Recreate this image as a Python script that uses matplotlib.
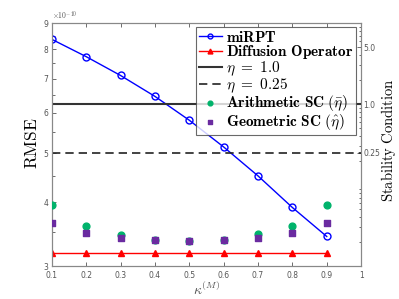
import numpy as np
import matplotlib.pyplot as plt
from matplotlib.ticker import FixedLocator, NullFormatter, LogLocator, FixedFormatter

plt.rcParams['mathtext.fontset'] = 'cm'

kappa = [0.1, 0.2, 0.3, 0.4, 0.5, 0.6, 0.7, 0.8, 0.9]
# RMSE (x 1e-10), left axis
rmse_mirpt = [8.36, 7.73, 7.10, 6.46, 5.80, 5.14, 4.51, 3.91, 3.43]
rmse_diffusion = [3.19] * 9
# stability condition, right axis
eta_full = 1.0
eta_quarter = 0.25
sc_arith = [0.0563, 0.0317, 0.0244, 0.0211, 0.0204, 0.0213, 0.0246, 0.0317, 0.0563]
sc_geom = [0.0342, 0.0255, 0.0222, 0.0209, 0.0204, 0.0211, 0.0222, 0.0255, 0.0342]

x_ticks = [0.1, 0.2, 0.3, 0.4, 0.5, 0.6, 0.7, 0.8, 0.9, 1.0]
x_tick_labels = ['0.1', '0.2', '0.3', '0.4', '0.5', '0.6', '0.7', '0.8', '0.9', '1']
left_ticks = [3, 4, 5, 6, 7, 8, 9]
right_ticks = [0.25, 1.0, 5.0]
right_tick_labels = ['0.25', '1.0', '5.0']

gray = '#555555'

fig = plt.figure(figsize=(3.99, 2.99), dpi=100)
ax = fig.add_axes([0.130, 0.110, 0.775, 0.813])
ax2 = ax.twinx()

# left axis: RMSE
h1, = ax.plot(kappa, np.array(rmse_mirpt) * 1e-10, '-o', color='#0000ff', lw=1.0,
              ms=5, mfc='none', mew=1.0, label=r'$\mathbf{miRPT}$')
h2, = ax.plot(kappa, np.array(rmse_diffusion) * 1e-10, '-^', color='#ff0000', lw=1.0,
              ms=5, mfc='#ff0000', label=r'$\mathbf{Diffusion\ Operator}$')
ax.set_yscale('log')
ax.set_ylim(3e-10, 9e-10)
ax.set_xlim(0.1, 1.0)
ax.yaxis.set_major_locator(FixedLocator([v * 1e-10 for v in left_ticks]))
ax.yaxis.set_major_formatter(FixedFormatter([str(v) for v in left_ticks]))
ax.yaxis.set_minor_locator(FixedLocator([v * 1e-10 for v in [3.5, 4.5, 5.5, 6.5, 7.5, 8.5]]))
ax.yaxis.set_minor_formatter(NullFormatter())
ax.set_xticks(x_ticks)
ax.set_xticklabels(x_tick_labels)
ax.tick_params(axis='both', which='both', direction='in', colors=gray, labelsize=5.5,
               top=True, length=3, width=0.6)
ax.tick_params(axis='y', which='minor', length=1.8)
ax.tick_params(axis='x', pad=3.5)
ax.tick_params(axis='y', pad=2.5)
ax.text(0.0, 1.005, r'$\times10^{-10}$', transform=ax.transAxes, fontsize=5.5,
        color=gray, family='DejaVu Sans', ha='left', va='bottom')

# right axis: stability condition
h3 = ax2.axhline(eta_full, color='#333333', lw=1.5, ls='-', label=r'$\eta\ \mathbf{=\ 1.0}$')
h4 = ax2.axhline(eta_quarter, color='#222222', lw=1.2, ls=(0, (5, 3)),
                 label=r'$\eta\ \mathbf{=\ 0.25}$')
h5 = ax2.scatter(kappa, sc_arith, s=24, color='#00b36b', marker='o', zorder=3,
                 label=r'$\mathbf{Arithmetic\ SC}\ (\bar{\eta})$')
h6 = ax2.scatter(kappa, sc_geom, s=15, color='#6a2ba0', marker='s', zorder=3,
                 label=r'$\mathbf{Geometric\ SC}\ (\hat{\eta})$')
ax2.set_yscale('log')
ax2.set_ylim(0.01, 10)
ax2.yaxis.set_major_locator(FixedLocator(right_ticks))
ax2.yaxis.set_major_formatter(FixedFormatter(right_tick_labels))
ax2.yaxis.set_minor_locator(LogLocator(base=10, subs=np.arange(2, 10)))
ax2.yaxis.set_minor_formatter(NullFormatter())
ax2.tick_params(axis='y', which='both', direction='in', colors=gray, labelsize=5.5,
                length=3, width=0.6, pad=1.5)
ax2.tick_params(axis='y', which='minor', length=1.8)

for a in (ax, ax2):
    for sp in a.spines.values():
        sp.set_color('#888888')
        sp.set_linewidth(0.8)

fig.text(32 / 399, 1 - 143 / 299, r'$\mathrm{RMSE}$', fontsize=12.5,
         rotation=90, ha='center', va='center')
fig.text(389 / 399, 1 - 140 / 299, r'$\mathrm{Stability\ Condition}$', fontsize=10.5,
         rotation=90, ha='center', va='center')
ax.set_xlabel(r'$\kappa^{(M)}$', fontsize=10, color=gray, labelpad=1)

handles = [h1, h2, h3, h4, h5, h6]
leg = ax2.legend(handles=handles, loc='upper right', bbox_to_anchor=(0.985, 0.985),
                 fontsize=11, frameon=True, fancybox=False, edgecolor='#444444',
                 handlelength=1.5, handletextpad=0.3, labelspacing=-0.1,
                 borderpad=0.2, borderaxespad=0.0, scatterpoints=1, markerscale=0.7)
leg.get_frame().set_linewidth(0.8)

fig.savefig('out.png', dpi=100)
